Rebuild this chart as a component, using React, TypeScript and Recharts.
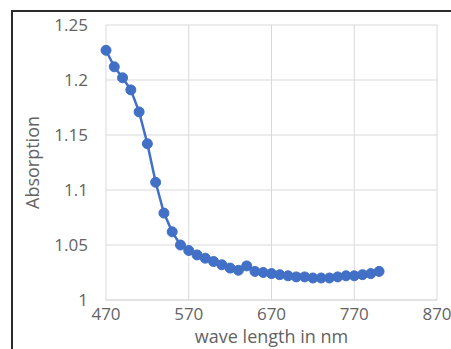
import { LineChart, Line, XAxis, YAxis, CartesianGrid } from "recharts";

const waveLengths = [
  470, 480, 490, 500, 510, 520, 530, 540, 550, 560, 570, 580, 590, 600, 610,
  620, 630, 640, 650, 660, 670, 680, 690, 700, 710, 720, 730, 740, 750, 760,
  770, 780, 790, 800,
];

const absorption = [
  1.227, 1.212, 1.202, 1.191, 1.171, 1.142, 1.107, 1.079, 1.062, 1.05, 1.045,
  1.041, 1.038, 1.035, 1.032, 1.029, 1.027, 1.031, 1.026, 1.025, 1.024, 1.023,
  1.022, 1.021, 1.021, 1.02, 1.02, 1.02, 1.021, 1.022, 1.022, 1.023, 1.024,
  1.026,
];

const xTicks = [470, 570, 670, 770, 870];
const yTicks = [1, 1.05, 1.1, 1.15, 1.2, 1.25];

const data = waveLengths.map((nm, i) => ({ nm, value: absorption[i] }));

const font = "'Open Sans', sans-serif";
const textColor = "#636363";
const blue = "#4170C6";

export default function App() {
  return (
    <div
      style={{
        position: "fixed",
        left: 0,
        top: 0,
        width: 451,
        height: 349,
        background: "#fff",
        overflow: "hidden",
        fontFamily: font,
      }}
    >
      <div
        style={{
          position: "absolute",
          left: 11,
          top: 10,
          width: 470,
          height: 370,
          border: "2px solid #2b2b2b",
        }}
      />
      <div style={{ position: "absolute", left: 0, top: 0 }}>
        <LineChart
          width={451}
          height={349}
          data={data}
          margin={{ top: 25, right: 14, bottom: 0, left: 26 }}
        >
          <CartesianGrid stroke="#d9d9d9" />
          <XAxis
            dataKey="nm"
            type="number"
            domain={[470, 870]}
            ticks={xTicks}
            height={49}
            axisLine={{ stroke: "#d9d9d9" }}
            tickLine={false}
            tickMargin={2}
            tick={{ fill: textColor, fontSize: 17, fontFamily: font }}
            label={{
              value: "wave length in nm",
              position: "insideBottom",
              offset: 6,
              fill: textColor,
              fontSize: 18,
              fontFamily: font,
            }}
          />
          <YAxis
            type="number"
            domain={[1, 1.25]}
            ticks={yTicks}
            width={80}
            axisLine={false}
            tickLine={false}
            tickMargin={12}
            tick={{ fill: textColor, fontSize: 17, fontFamily: font }}
            label={{
              value: "Absorption",
              angle: -90,
              position: "insideLeft",
              offset: 7,
              fill: textColor,
              fontSize: 18,
              fontFamily: font,
              style: { textAnchor: "middle" },
            }}
          />
          <Line
            type="linear"
            dataKey="value"
            stroke={blue}
            strokeWidth={2.5}
            dot={{ r: 5, fill: blue, stroke: blue, strokeWidth: 1 }}
            isAnimationActive={false}
          />
        </LineChart>
      </div>
    </div>
  );
}
